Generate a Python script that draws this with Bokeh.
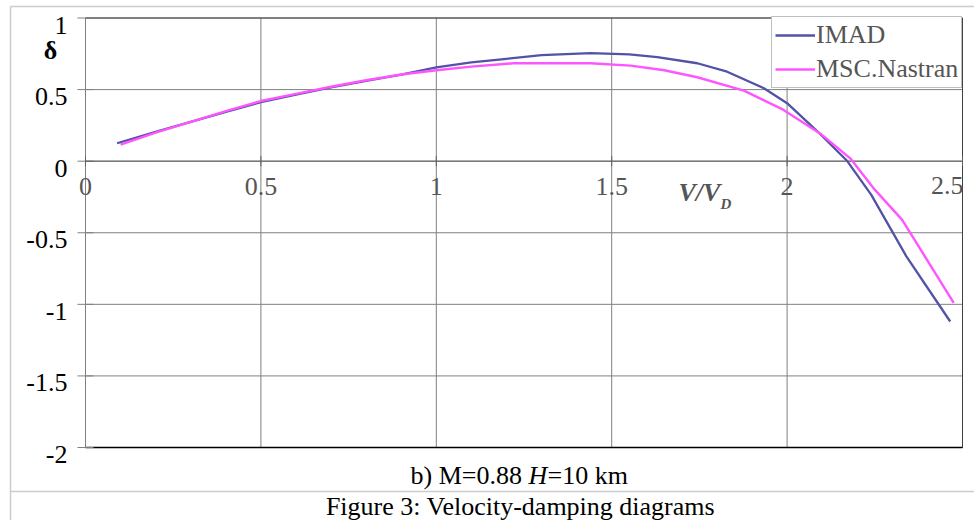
import math
from bokeh.plotting import figure
from bokeh.models import Range1d
from bokeh.embed import file_html
from bokeh.resources import INLINE
from bokeh.core.properties import value

# ---- data ----
imad_x = [0.09, 0.2, 0.3, 0.4, 0.5, 0.6, 0.7, 0.8, 0.9, 1.0, 1.1, 1.2, 1.3, 1.44,
          1.55, 1.63, 1.744, 1.829, 1.934, 2.0, 2.09, 2.17, 2.24, 2.34, 2.465]
imad_y = [0.125, 0.205, 0.275, 0.345, 0.412, 0.465, 0.515, 0.56, 0.605, 0.655, 0.69,
          0.715, 0.74, 0.755, 0.746, 0.726, 0.684, 0.625, 0.509, 0.405, 0.20, 0.005,
          -0.235, -0.665, -1.12]
nastran_x = [0.10, 0.2, 0.3, 0.4, 0.5, 0.6, 0.7, 0.8, 0.9, 1.0, 1.1, 1.22, 1.44,
             1.554, 1.65, 1.744, 1.877, 1.99, 2.095, 2.18, 2.246, 2.328, 2.475]
nastran_y = [0.115, 0.20, 0.275, 0.35, 0.42, 0.47, 0.52, 0.565, 0.605, 0.635, 0.66,
             0.684, 0.684, 0.667, 0.635, 0.586, 0.493, 0.358, 0.192, 0.02, -0.188, -0.41,
             -0.99]
x_ticks = [0, 0.5, 1, 1.5, 2, 2.5]
x_tick_labels = ["0", "0.5", "1", "1.5", "2", "2.5"]
y_ticks = [-2, -1.5, -1, -0.5, 0, 0.5, 1]
y_tick_labels = ["-2", "-1.5", "-1", "-0.5", "0", "0.5", "1"]
series_names = ["IMAD", "MSC.Nastran"]
y_title = "δ"
x_title = "V/V"
x_title_sub = "D"
caption_parts = ["b) M=0.88 ", "H", "=10 km"]
figure_caption = "Figure 3: Velocity-damping diagrams"

# ---- layout (pixels) ----
W, H = 974, 520
FL, FR, FT, FB = 85, 962, 17.5, 447          # plot-area edges
SERIF = value("Liberation Serif")
FS = value("26px")
GRID = "#808080"

X0, X1 = x_ticks[0], x_ticks[-1]
Y0, Y1 = y_ticks[0], y_ticks[-1]
kx = (X1 - X0) / (FR - FL)
ky = (Y1 - Y0) / (FB - FT)


def px2x(px):
    return X0 + (px - FL) * kx


def py2y(py):
    return Y1 - (py - FT) * ky


p = figure(width=W, height=H, output_backend="svg", toolbar_location=None,
           x_range=Range1d(px2x(0), px2x(W)), y_range=Range1d(py2y(H), py2y(0)),
           x_axis_location=None, y_axis_location=None,
           min_border=0, min_border_left=0, min_border_right=0,
           min_border_top=0, min_border_bottom=0)
p.grid.visible = False
p.outline_line_color = None
p.background_fill_color = "white"
p.border_fill_color = "white"

# outer table borders (light grey)
p.segment(x0=[px2x(10), px2x(10), px2x(10)], y0=[py2y(6), py2y(6), py2y(491)],
          x1=[px2x(10), px2x(W + 5), px2x(W + 5)], y1=[py2y(H + 5), py2y(6), py2y(491)],
          line_color="#cccccc", line_width=1.5)

# grid lines
nx, ny = len(x_ticks), len(y_ticks)
p.segment(x0=x_ticks, y0=[Y0] * nx, x1=x_ticks, y1=[Y1] * nx, line_color=GRID, line_width=1)
p.segment(x0=[X0] * ny, y0=y_ticks, x1=[X1] * ny, y1=y_ticks, line_color=GRID, line_width=1)

# plot frame
p.quad(left=X0, right=X1, bottom=Y0, top=Y1, fill_alpha=0, line_color="#404040", line_width=1)
p.segment(x0=[X0], y0=[Y0], x1=[X1], y1=[Y0], line_color="black", line_width=1.3)

# y axis (line, ticks, labels)
p.segment(x0=[X0], y0=[Y0], x1=[X0], y1=[Y1], line_color=GRID, line_width=1)
p.scatter(x=[X0] * ny, y=y_ticks, marker="dash", size=16, line_color=GRID, line_width=1)
p.text(x=[X0] * ny, y=y_ticks, text=y_tick_labels, text_font=SERIF, text_font_size=FS,
       text_color="black", text_align="right", text_baseline="middle",
       x_offset=-18, y_offset=7)

# x axis through zero (line, ticks, labels)
p.segment(x0=[X0], y0=[0], x1=[X1], y1=[0], line_color="#606060", line_width=1)
p.scatter(x=x_ticks, y=[0] * nx, marker="dash", angle=math.pi / 2, size=10,
          line_color="#606060", line_width=1)
p.text(x=x_ticks[:-1], y=[0] * (nx - 1), text=x_tick_labels[:-1], text_font=SERIF,
       text_font_size=FS, text_color="#555555", text_align="center",
       text_baseline="alphabetic", y_offset=25)
p.text(x=x_ticks[-1:], y=[0], text=x_tick_labels[-1:], text_font=SERIF,
       text_font_size=FS, text_color="#555555", text_align="right",
       text_baseline="alphabetic", x_offset=1, y_offset=24)

# axis titles
p.text(x=[X0], y=[Y1], text=[y_title], text_font=SERIF, text_font_size=FS,
       text_font_style="bold", text_color="black", text_align="center",
       text_baseline="alphabetic", x_offset=-35, y_offset=32)
p.text(x=[px2x(678)], y=[0], text=[x_title], text_font=SERIF, text_font_size=FS,
       text_font_style="bold italic", text_color="#555555", text_align="left",
       text_baseline="alphabetic", y_offset=31)
p.text(x=[px2x(720)], y=[0], text=[x_title_sub], text_font=SERIF,
       text_font_size=value("15px"), text_font_style="bold italic",
       text_color="#555555", text_align="left", text_baseline="alphabetic", y_offset=43)

# series
p.line(imad_x, imad_y, line_color="#5252A6", line_width=2.3, legend_label=series_names[0])
p.line(nastran_x, nastran_y, line_color="#FF55FF", line_width=2.4, legend_label=series_names[1])

lg = p.legend[0]
lg.location = (771, H - 88)
lg.margin = 0
lg.padding = 3
lg.spacing = 4
lg.glyph_width = 40
lg.glyph_height = 30
lg.label_height = 30
lg.label_standoff = 1
lg.label_text_font = "Liberation Serif"
lg.label_text_font_size = "26px"
lg.label_text_color = "#555555"
lg.border_line_color = GRID
lg.border_line_width = 1
lg.background_fill_color = "white"
lg.background_fill_alpha = 1

# captions
cap_y = py2y(475)
p.text(x=[px2x(528)], y=[cap_y], text=[caption_parts[0]], text_font=SERIF, text_font_size=FS,
       text_color="black", text_align="right", text_baseline="alphabetic")
p.text(x=[px2x(528)], y=[cap_y], text=[caption_parts[1]], text_font=SERIF, text_font_size=FS,
       text_font_style="italic", text_color="black", text_align="left",
       text_baseline="alphabetic")
p.text(x=[px2x(547)], y=[cap_y], text=[caption_parts[2]], text_font=SERIF, text_font_size=FS,
       text_color="black", text_align="left", text_baseline="alphabetic")
p.text(x=[px2x(520)], y=[py2y(506)], text=[figure_caption], text_font=SERIF,
       text_font_size=FS, text_color="black", text_align="center",
       text_baseline="alphabetic")

open("out.html", "w").write(file_html(p, INLINE))
